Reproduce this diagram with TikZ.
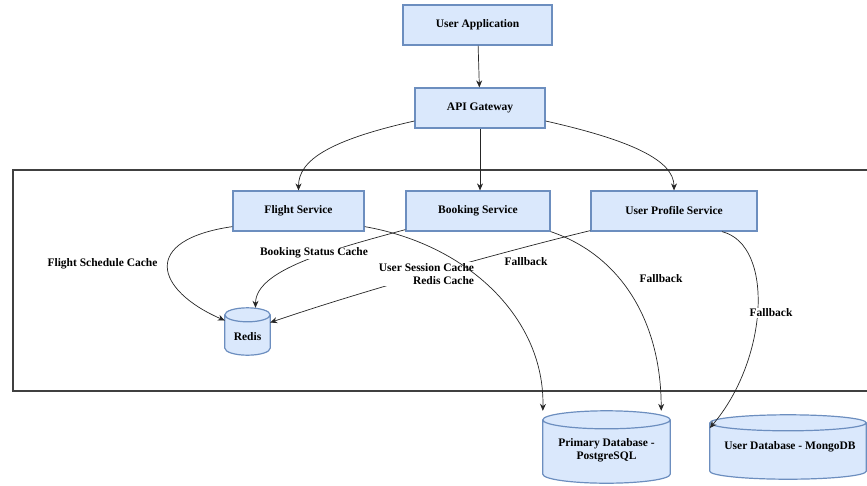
\documentclass[tikz,border=0pt]{standalone}
\usepackage{fontspec}
\setmainfont{Liberation Serif}
\usetikzlibrary{arrows.meta,calc}
\definecolor{boxfill}{HTML}{DAE8FC}
\definecolor{boxdraw}{HTML}{6C8EBF}
\newcommand\dbcyl[2]{%
  \path[draw=boxdraw, fill=boxfill, line width=1.2pt]
    let \p1=(#1.north west), \p2=(#1.south east), \n1={(\x2-\x1)/2} in
    (\x1,\y1-#2) -- (\x1,\y2+#2)
      arc[start angle=180,end angle=360,x radius={\n1},y radius=#2]
      -- (\x2,\y1-#2)
      arc[start angle=0,end angle=180,x radius={\n1},y radius=#2] -- cycle
    (\x1,\y1-#2) arc[start angle=180,end angle=360,x radius={\n1},y radius=#2];
}
\begin{document}
\begin{tikzpicture}[x=1pt,y=-1pt,
  font=\bfseries\fontsize{11.5}{13}\selectfont,
  box/.style={draw=boxdraw, fill=boxfill, line width=1.2pt, minimum height=40pt, inner sep=0pt},
  dbbox/.style={inner sep=0pt},
  edge/.style={draw=black!85, line width=0.7pt, -{Stealth[length=7pt,width=6pt]}},
  lbl/.style={inner sep=1pt},
  wlbl/.style={inner sep=1pt, fill=white}]
\useasboundingbox (0,0) rectangle (867,485);
% frame
\draw[draw=black!75, line width=1.8pt] (867,170) -- (13,170) -- (13,391) -- (867,391);
% boxes
\node[box, minimum width=149pt] (ua) at (477.5,25) {User Application};
\node[box, minimum width=130pt] (api) at (480,108) {API Gateway};
\node[box, minimum width=131pt] (fs) at (298.5,211) {Flight Service};
\node[box, minimum width=144pt] (bs) at (478,211) {Booking Service};
\node[box, minimum width=166pt] (ups) at (674,211) {User Profile Service};
% databases
\node[dbbox, minimum width=45pt, minimum height=47pt] (redis) at (247.5,331.5) {};
\node[dbbox, minimum width=127pt, minimum height=72pt] (pg) at (606.5,447) {};
\node[dbbox, minimum width=156pt, minimum height=64pt] (udb) at (788,447) {};
\dbcyl{redis}{7pt}
\dbcyl{pg}{9pt}
\dbcyl{udb}{8pt}
\node (redistxt) at (247.5,337) {Redis};
\node[align=center] (pgtxt) at (606.5,450) {Primary Database -\\PostgreSQL};
\node (udbtxt) at (790,447) {User Database - MongoDB};
% edges
\draw[edge] (ua) -- (api);
\draw[edge] (api.south) -- (api.south |- bs.north);
\draw[edge] ([yshift=-13pt]api.west) .. controls (330,140) and (298.5,160) .. (fs.north);
\draw[edge] ([yshift=-13pt]api.east) .. controls (630,140) and (674,160) .. (ups.north);
\draw[edge] ([yshift=5pt]fs.south west) .. controls (140,240) and (155,290) .. ([yshift=11pt]redis.west);
\draw[edge] ([yshift=2pt]bs.south west) .. controls (330,250) and (255.5,270) .. ([xshift=8pt]redis.north);
\node[wlbl] (bsc) at (314,253) {Booking Status Cache};
\draw[edge] ([yshift=1pt]ups.south west) .. controls (530,245) and (380,285) .. ([yshift=9pt]redis.east);
\node[wlbl, align=right] (usc) at (426.5,274) {User Session Cache\\Redis Cache};
\draw[edge] ([yshift=5pt]fs.south east) .. controls (470,245) and (545,320) .. (pg.north west);
\draw[edge] (bs.south east) .. controls (620,255) and (661,320) .. ([xshift=-9pt]pg.north east);
\draw[edge] ([xshift=48pt]ups.south) .. controls (775,245) and (768,360) .. ([yshift=19pt]udb.west);
% labels
\node[lbl] (fsc) at (102.5,264) {Flight Schedule Cache};
\node[lbl] (fb1) at (526,262) {Fallback};
\node[lbl] (fb2) at (661,279) {Fallback};
\node[wlbl] (fb3) at (771,313) {Fallback};
\end{tikzpicture}
\end{document}
